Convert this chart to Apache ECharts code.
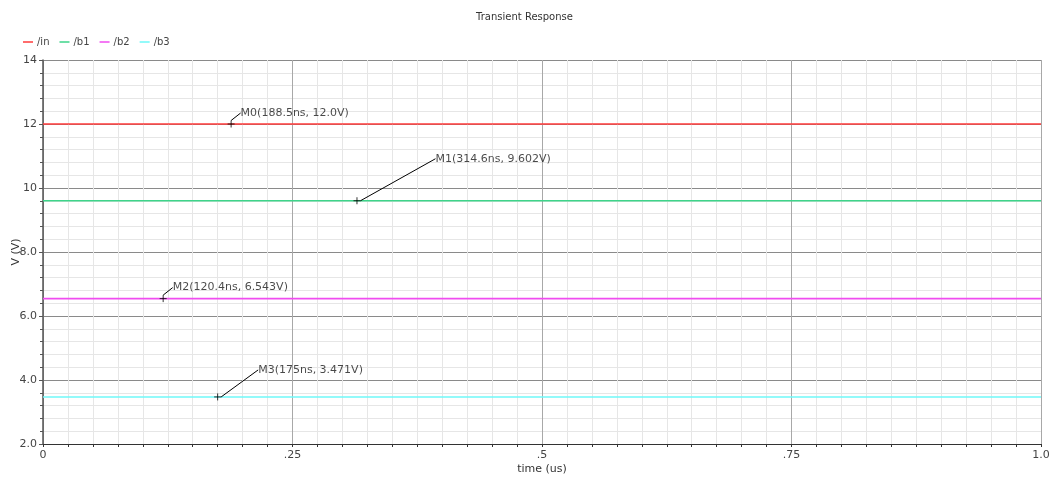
<!DOCTYPE html>
<html>
<head>
<meta charset="utf-8">
<script src="https://cdn.jsdelivr.net/npm/echarts@6/dist/echarts.min.js"></script>
<style>
  html, body { margin: 0; padding: 0; background: #fff; }
  #chart { width: 1049px; height: 477px; }
</style>
</head>
<body>
<div id="chart"></div>
<script>
// Signals: name, constant level (V), colour
const seriesNames = ['/in', '/b1', '/b2', '/b3'];
const seriesLevels = [12.0, 9.602, 6.543, 3.471];
const seriesColors = ['#ff3b3b', '#3ed48a', '#f04cf0', '#6ff8f8'];

// Time span of the sweep (us)
const timeRange = [0, 1.0];

// Markers placed on the traces: name, time (us), value (V)
const markerNames = ['M0', 'M1', 'M2', 'M3'];
const markerTimes = [0.1885, 0.3146, 0.1204, 0.175];
const markerValues = [12.0, 9.602, 6.543, 3.471];
const markerTexts = ['M0(188.5ns, 12.0V)', 'M1(314.6ns, 9.602V)', 'M2(120.4ns, 6.543V)', 'M3(175ns, 3.471V)'];

// Tick labels
const xTickValues = [0, 0.25, 0.5, 0.75, 1.0];
const xTickLabels = ['0', '.25', '.5', '.75', '1.0'];
const yTickValues = [2, 4, 6, 8, 10, 12, 14];
const yTickLabels = ['2.0', '4.0', '6.0', '8.0', '10', '12', '14'];

// Label displacement (px) for each marker annotation
const labelShift = [[3.5, -11], [72.5, -42], [3.5, -11], [34.5, -27]];

const FONT = 'DejaVu Sans';

function tickText(values, labels, v) {
  for (let i = 0; i < values.length; i++) {
    if (Math.abs(values[i] - v) < 1e-9) return labels[i];
  }
  return '';
}

const traceSeries = seriesNames.map((name, i) => ({
  name: name,
  type: 'line',
  data: [[timeRange[0], seriesLevels[i]], [timeRange[1], seriesLevels[i]]],
  symbol: 'none',
  lineStyle: { color: seriesColors[i], width: 1.6 },
  itemStyle: { color: seriesColors[i] },
  silent: true,
  z: 3
}));

const markerSeries = {
  name: 'markers',
  type: 'scatter',
  data: markerNames.map((n, i) => ({ name: n, value: [markerTimes[i], markerValues[i]] })),
  symbol: 'path://M0,5L10,5M5,0L5,10',
  symbolSize: 7,
  itemStyle: { color: 'none', borderColor: '#000', borderWidth: 1 },
  label: {
    show: true,
    position: 'right',
    distance: 0,
    formatter: (p) => markerTexts[p.dataIndex],
    fontFamily: FONT,
    fontSize: 11,
    color: '#1a1a1a'
  },
  labelLayout: (p) => ({ dx: labelShift[p.dataIndex][0], dy: labelShift[p.dataIndex][1] }),
  labelLine: { show: true, lineStyle: { color: '#000', width: 1 } },
  silent: true,
  z: 5
};

const chart = echarts.init(document.getElementById('chart'), null, { renderer: 'canvas' });
chart.setOption({
  animation: false,
  backgroundColor: '#ffffff',
  title: {
    text: 'Transient Response',
    left: 'center',
    top: 7,
    textStyle: { fontFamily: FONT, fontSize: 10, fontWeight: 'normal', color: '#333' }
  },
  legend: {
    data: seriesNames,
    left: 18,
    top: 32,
    icon: 'rect',
    itemWidth: 10,
    itemHeight: 1.5,
    itemGap: 10,
    textStyle: { fontFamily: FONT, fontSize: 10, color: '#444', padding: [0, 0, 0, -1] }
  },
  grid: { left: 43, right: 8, top: 60, bottom: 33, containLabel: false, outerBoundsMode: 'none' },
  xAxis: {
    type: 'value',
    min: timeRange[0],
    max: timeRange[1],
    interval: 0.25,
    name: 'time (us)',
    nameLocation: 'middle',
    nameGap: 20,
    nameMoveOverlap: false,
    nameTextStyle: { fontFamily: FONT, fontSize: 11, color: '#333' },
    axisLine: { show: true, lineStyle: { color: '#333', width: 1 } },
    axisTick: { show: true, length: 3, lineStyle: { color: '#333' } },
    minorTick: { show: true, splitNumber: 10, length: 3, lineStyle: { color: '#333' } },
    axisLabel: {
      fontFamily: FONT, fontSize: 11, color: '#444', margin: 6,
      formatter: (v) => tickText(xTickValues, xTickLabels, v)
    },
    splitLine: { show: true, lineStyle: { color: '#a8a8a8', width: 1 } },
    minorSplitLine: { show: true, lineStyle: { color: '#e6e6e6', width: 1 } }
  },
  yAxis: {
    type: 'value',
    min: 2,
    max: 14,
    interval: 2,
    name: 'V (V)',
    nameLocation: 'middle',
    nameGap: 21,
    nameMoveOverlap: false,
    nameTextStyle: { fontFamily: FONT, fontSize: 11, color: '#333' },
    axisLine: { show: true, lineStyle: { color: '#555', width: 1.5 } },
    axisTick: { show: true, length: 4, lineStyle: { color: '#555' } },
    minorTick: { show: true, splitNumber: 5, length: 3, lineStyle: { color: '#555' } },
    axisLabel: {
      fontFamily: FONT, fontSize: 11, color: '#444', margin: 6,
      formatter: (v) => tickText(yTickValues, yTickLabels, v)
    },
    splitLine: { show: true, lineStyle: { color: '#8a8a8a', width: 1 } },
    minorSplitLine: { show: true, lineStyle: { color: '#e6e6e6', width: 1 } }
  },
  series: traceSeries.concat([markerSeries])
});
</script>
</body>
</html>
